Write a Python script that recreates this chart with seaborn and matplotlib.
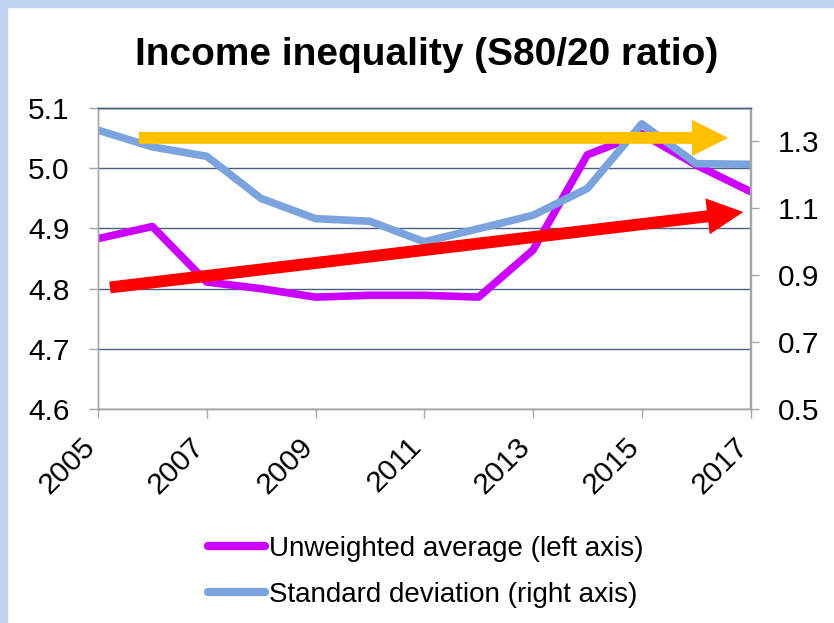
import matplotlib
matplotlib.use("Agg")
import matplotlib.pyplot as plt
import matplotlib.transforms as mtransforms
from matplotlib.lines import Line2D
from matplotlib.patches import Rectangle
import seaborn as sns

# data
years = list(range(2005, 2018))
unweighted_avg = [4.883, 4.903, 4.811, 4.800, 4.786, 4.789, 4.789, 4.786, 4.864, 5.022, 5.057, 5.005, 4.961]
std_dev = [1.333, 1.283, 1.255, 1.129, 1.069, 1.061, 1.000, 1.039, 1.079, 1.159, 1.352, 1.233, 1.231]
year_ticks = list(range(2005, 2018, 2))
left_ticks = [4.6, 4.7, 4.8, 4.9, 5.0, 5.1]
right_ticks = [0.5, 0.7, 0.9, 1.1, 1.3]
labels = ["Unweighted average (left axis)", "Standard deviation (right axis)"]

# trend arrows (year, left axis value): start, tip
flat_arrow = [(2005.75, 5.05), (2016.59, 5.05)]
rising_arrow = [(2005.22, 4.802), (2016.87, 4.927)]

PURPLE = "#CC00FF"
BLUE = "#7BA4DF"
GRID = "#4A607E"
AXIS_GREY = "#A6A6A6"
FRAME = "#BFD4F0"

sns.set_style("white")
plt.rcParams["font.family"] = ["Liberation Sans", "DejaVu Sans"]
plt.rcParams["text.color"] = "black"

W, H = 834, 623
fig = plt.figure(figsize=(W / 100, H / 100), dpi=100)
fig.patches.append(Rectangle((0, 0), 7.3 / W, 1, transform=fig.transFigure, color=FRAME, zorder=0))
fig.patches.append(Rectangle((0, 1 - 7.3 / H), 1, 7.3 / H, transform=fig.transFigure, color=FRAME, zorder=0))

ax1 = fig.add_axes([98 / W, 1 - 409.3 / H, (750.5 - 98) / W, (409.3 - 107.7) / H])
ax2 = ax1.twinx()

sns.lineplot(x=years, y=unweighted_avg, ax=ax1, color=PURPLE, linewidth=5.5, legend=False)
sns.lineplot(x=years, y=std_dev, ax=ax2, color=BLUE, linewidth=5.5, legend=False)

ax1.set_xlim(2005, 2017)
ax1.set_ylim(4.6, 5.1)
ax2.set_ylim(0.5, 1.4)
ax1.set_xticks(year_ticks)
ax1.set_xticklabels([str(y) for y in year_ticks], rotation=45, ha="right", va="top")
ax1.set_yticks(left_ticks)
ax1.set_yticklabels([f"{v:.1f}" for v in left_ticks])
ax2.set_yticks(right_ticks)
ax2.set_yticklabels([f"{v:.1f}" for v in right_ticks])
for a in (ax1, ax2):
    a.set_xlabel("")
    a.set_ylabel("")

ax1.grid(axis="y", color=GRID, linewidth=1.0)
ax1.grid(axis="x", visible=False)
ax1.set_axisbelow(True)

ax1.tick_params(axis="both", direction="out", length=6.5, width=1, color=AXIS_GREY,
                labelsize=21.5, labelcolor="black", bottom=True, left=True)
ax1.tick_params(axis="y", pad=14)
ax1.tick_params(axis="x", pad=10)
ax2.tick_params(axis="y", direction="out", length=6.5, width=1, color=AXIS_GREY,
                labelsize=21.5, labelcolor="black", right=True, pad=13)

shift = mtransforms.ScaledTranslation(3 / 100, 0, fig.dpi_scale_trans)
for lab in ax1.get_xticklabels():
    lab.set_transform(lab.get_transform() + shift)

for a in (ax1, ax2):
    for side in ["left", "right", "bottom"]:
        a.spines[side].set_color(AXIS_GREY)
        a.spines[side].set_linewidth(1)
    a.spines["top"].set_color(GRID)
    a.spines["top"].set_linewidth(1)

for (start, tip), col in [(flat_arrow, "#FFC000"), (rising_arrow, "#FF0000")]:
    ax2.annotate("", xy=tip, xytext=start, xycoords=ax1.transData, textcoords=ax1.transData,
                 arrowprops=dict(arrowstyle="simple,head_length=26,head_width=26,tail_width=8.6",
                                 mutation_scale=1, fc=col, ec="none", shrinkA=0, shrinkB=0),
                 annotation_clip=False)

fig.text(427 / W, 1 - 65 / H, "Income inequality (S80/20 ratio)", ha="center", va="baseline",
         fontsize=28, fontweight="bold", color="black")

handles = [Line2D([0], [0], color=PURPLE, linewidth=6, solid_capstyle="round"),
           Line2D([0], [0], color=BLUE, linewidth=6, solid_capstyle="round")]
fig.legend(handles, labels, loc="center left", bbox_to_anchor=(208 / W, 1 - 571.5 / H),
           frameon=False, fontsize=20, handlelength=2.05, handletextpad=0.15,
           labelspacing=0.72, borderpad=0, borderaxespad=0, labelcolor="black")

fig.savefig("out.png", dpi=100)
